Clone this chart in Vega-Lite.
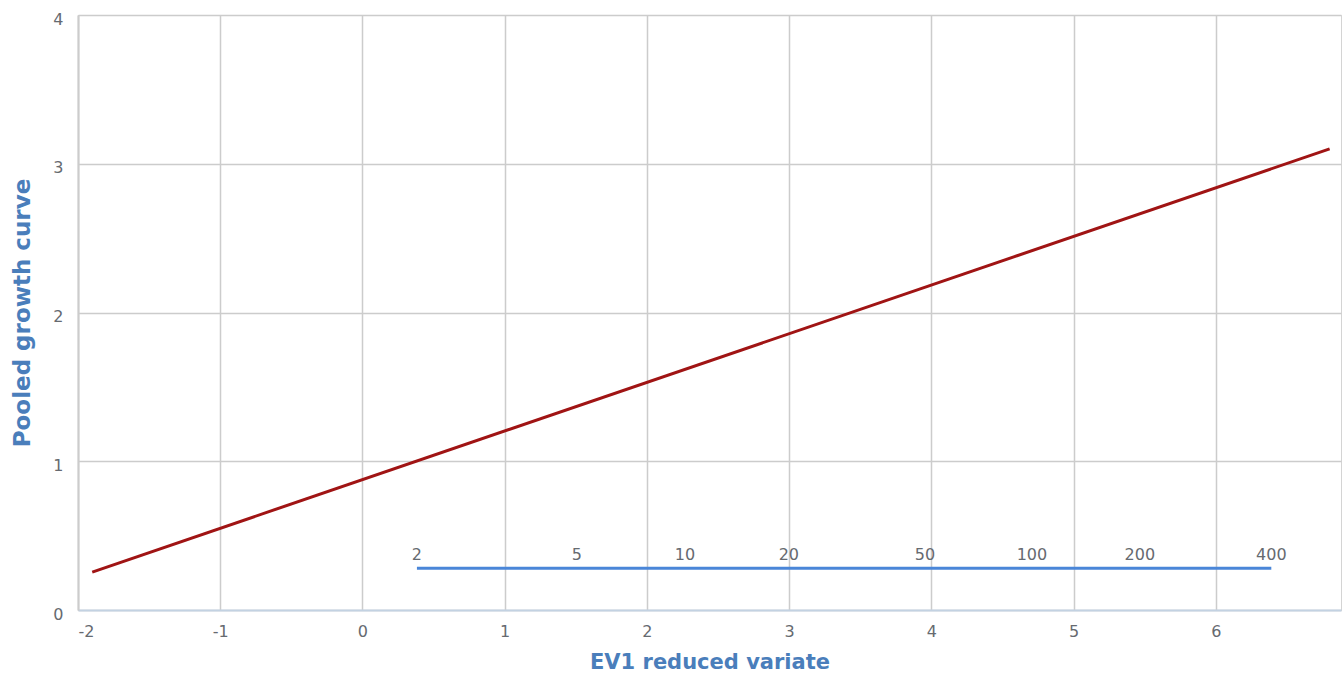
{
  "$schema": "https://vega.github.io/schema/vega-lite/v6.json",
  "autosize": "none",
  "width": 1263,
  "height": 595,
  "padding": {"left": 78, "top": 15, "right": 2, "bottom": 70},
  "background": "white",
  "config": {
    "view": {"stroke": "#d4d4d4", "strokeWidth": 1},
    "font": "DejaVu Sans"
  },
  "datasets": {
    "curve": [
      {"x": -1.9, "y": 0.255},
      {"x": 6.8, "y": 3.1}
    ],
    "rp": [
      {"x": 0.383, "y": 0.28, "T": "2"},
      {"x": 1.508, "y": 0.28, "T": "5"},
      {"x": 2.267, "y": 0.28, "T": "10"},
      {"x": 2.998, "y": 0.28, "T": "20"},
      {"x": 3.955, "y": 0.28, "T": "50"},
      {"x": 4.707, "y": 0.28, "T": "100"},
      {"x": 5.466, "y": 0.28, "T": "200"},
      {"x": 6.39, "y": 0.28, "T": "400"}
    ]
  },
  "layer": [
    {
      "data": {"name": "curve"},
      "mark": {"type": "line", "color": "#a01414", "strokeWidth": 3},
      "encoding": {
        "x": {
          "field": "x", "type": "quantitative",
          "scale": {"domain": [-2, 6.88], "nice": false, "zero": false},
          "axis": {
            "title": "EV1 reduced variate",
            "values": [-2, -1, 0, 1, 2, 3, 4, 5, 6],
            "labelExpr": "'' + datum.value",
            "grid": true, "gridColor": "#cccccc", "gridWidth": 1.5,
            "ticks": false,
            "domainColor": "#c3d2e2", "domainWidth": 2,
            "labelFont": "DejaVu Sans", "labelFontSize": 16, "labelColor": "#666a70",
            "labelPadding": 13,
            "titleFont": "DejaVu Sans", "titleFontSize": 21, "titleFontWeight": "bold",
            "titleColor": "#4a7ebb", "titlePadding": 12
          }
        },
        "y": {
          "field": "y", "type": "quantitative",
          "scale": {"domain": [0, 4], "nice": false},
          "axis": {
            "title": "Pooled growth curve",
            "values": [0, 1, 2, 3, 4],
            "labelExpr": "'' + datum.value",
            "grid": true, "gridColor": "#cccccc", "gridWidth": 1.5,
            "ticks": false,
            "domainColor": "#cccccc", "domainWidth": 2,
            "labelFont": "DejaVu Sans", "labelFontSize": 16, "labelColor": "#666a70",
            "labelPadding": 15, "labelOffset": 4,
            "titleFont": "DejaVu Sans", "titleFontSize": 23, "titleFontWeight": "bold",
            "titleColor": "#4a7ebb", "titlePadding": 18
          }
        }
      }
    },
    {
      "data": {"name": "rp"},
      "mark": {"type": "line", "color": "#4a86d8", "strokeWidth": 3},
      "encoding": {
        "x": {"field": "x", "type": "quantitative"},
        "y": {"field": "y", "type": "quantitative"}
      }
    },
    {
      "data": {"name": "rp"},
      "mark": {"type": "text", "font": "DejaVu Sans", "fontSize": 16, "color": "#666a70", "baseline": "alphabetic", "dy": -8},
      "encoding": {
        "x": {"field": "x", "type": "quantitative"},
        "y": {"field": "y", "type": "quantitative"},
        "text": {"field": "T"}
      }
    }
  ]
}
